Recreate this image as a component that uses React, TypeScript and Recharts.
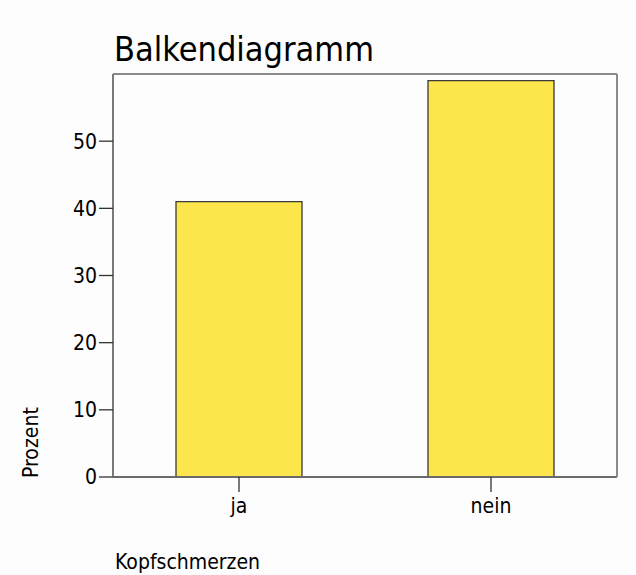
import React from 'react';
import { BarChart, Bar, XAxis, YAxis } from 'recharts';

const categories = ['ja', 'nein'];
const percentValues = [41, 59];
const yTicks = [0, 10, 20, 30, 40, 50];

const chartTitle = 'Balkendiagramm';
const yLabel = 'Prozent';
const xLabel = 'Kopfschmerzen';

const FONT = "'DejaVu Sans Condensed', 'DejaVu Sans', sans-serif";

const data = categories.map((name, i) => ({ name, prozent: percentValues[i] }));

const TitleLabel = (props: any) => {
  const vb = props.viewBox || { x: 113, y: 73, height: 1 };
  return (
    <text x={vb.x + 1} y={vb.y + vb.height - 13} fontSize={34} fontFamily={FONT} fill="#000">
      {chartTitle}
    </text>
  );
};

const YLabel = (props: any) => {
  const vb = props.viewBox || { x: 0, y: 74, height: 403 };
  const x = vb.x + 38;
  const y = vb.y + vb.height + 1;
  return (
    <text x={x} y={y} transform={`rotate(-90, ${x}, ${y})`} fontSize={21} fontFamily={FONT} fill="#000">
      {yLabel}
    </text>
  );
};

const XLabel = (props: any) => {
  const vb = props.viewBox || { x: 113, y: 477 };
  return (
    <text x={vb.x + 2} y={vb.y + 92} fontSize={21} fontFamily={FONT} fill="#000">
      {xLabel}
    </text>
  );
};

const App: React.FC = () => {
  const tickStyle = { fill: '#000', fontSize: 21, fontFamily: FONT };
  return (
    <div style={{ width: 636, height: 575, background: '#fdfdfd', overflow: 'hidden' }}>
      <style>{'body{margin:0;background:#fdfdfd}'}</style>
      <BarChart
        width={636}
        height={575}
        data={data}
        margin={{ top: 73, right: 18, bottom: 0, left: 0 }}
        barCategoryGap="25%"
      >
        <XAxis
          dataKey="name"
          height={98}
          tick={tickStyle}
          tickSize={15}
          tickMargin={6}
          tickLine={{ stroke: '#333', strokeWidth: 1.3 }}
          axisLine={{ stroke: '#6a6a6a', strokeWidth: 2 }}
          label={{ content: XLabel }}
        />
        <XAxis
          xAxisId="top"
          dataKey="name"
          orientation="top"
          height={1}
          tick={false}
          tickLine={false}
          axisLine={{ stroke: '#8a8a8a', strokeWidth: 2 }}
          label={{ content: TitleLabel }}
        />
        <YAxis
          type="number"
          domain={[0, 60]}
          ticks={yTicks}
          width={113}
          tick={tickStyle}
          tickSize={14}
          tickMargin={2}
          tickLine={{ stroke: '#333', strokeWidth: 1.3 }}
          axisLine={{ stroke: '#7a7a7a', strokeWidth: 2 }}
          label={{ content: YLabel }}
        />
        <YAxis
          yAxisId="right"
          type="number"
          domain={[0, 60]}
          orientation="right"
          width={1}
          tick={false}
          tickLine={false}
          axisLine={{ stroke: '#8a8a8a', strokeWidth: 2 }}
        />
        <Bar
          dataKey="prozent"
          fill="#fde64b"
          stroke="#3a3a3a"
          strokeWidth={1.3}
          isAnimationActive={false}
        />
      </BarChart>
    </div>
  );
};

export default App;
